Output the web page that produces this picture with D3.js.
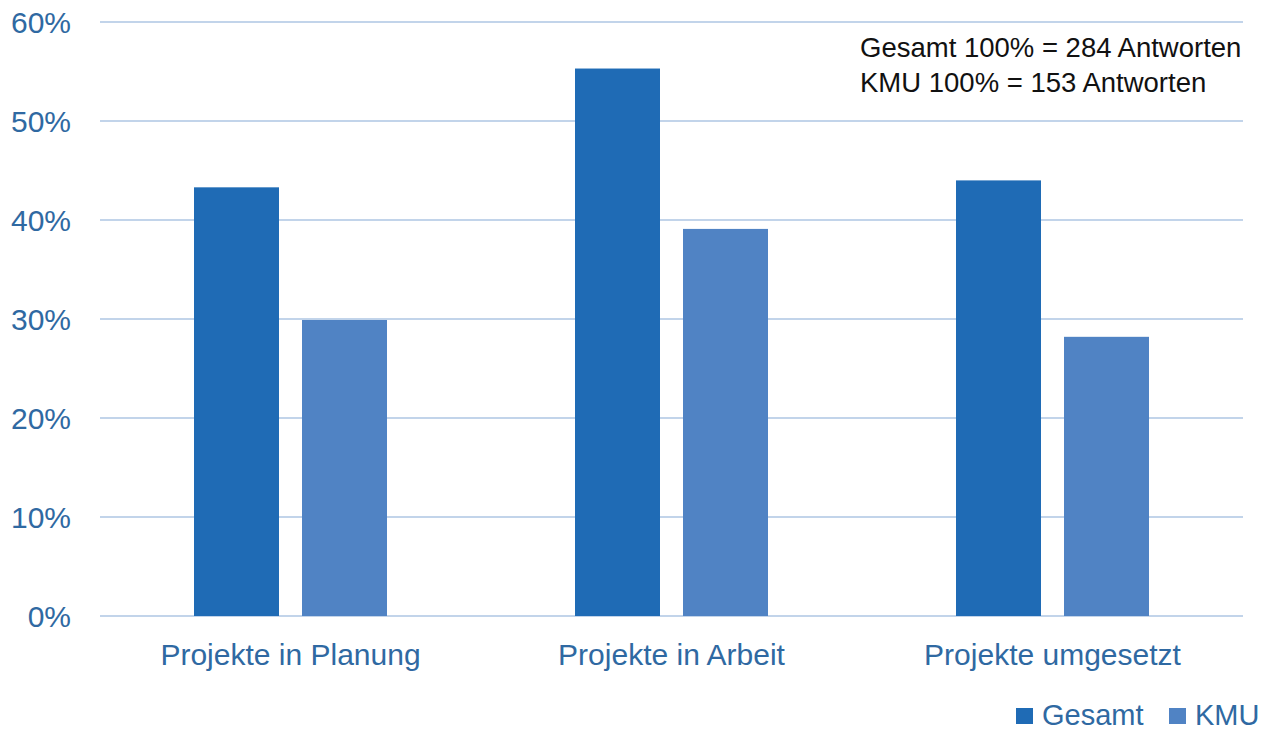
<!DOCTYPE html>
<html><head><meta charset="utf-8">
<script src="https://cdn.jsdelivr.net/npm/d3@7"></script>
<style>body{margin:0;background:#fff;}svg{display:block;font-family:"Liberation Sans",Arial,sans-serif;}</style>
</head><body>
<svg id="chart" width="1265" height="730"></svg>
<script>
const categories = ["Projekte in Planung", "Projekte in Arbeit", "Projekte umgesetzt"];
const seriesNames = ["Gesamt", "KMU"];
const gesamt = [43.3, 55.3, 44.0];
const kmu = [29.9, 39.1, 28.2];
const yTicks = [0, 10, 20, 30, 40, 50, 60];
const notes = ["Gesamt 100% = 284 Antworten", "KMU 100% = 153 Antworten"];
const colors = ["#1f6bb5", "#5083c4"];
const textColor = "#2f69a2";

const svg = d3.select("#chart");
const x0 = 100, x1 = 1243, yTop = 22, yBottom = 616;
const x = d3.scaleBand().domain(categories).range([x0, x1]).paddingInner(0).paddingOuter(0);
const y = d3.scaleLinear().domain([0, 60]).range([yBottom, yTop]);
const groupW = 193;
const xs = d3.scaleBand().domain(seriesNames).range([0, groupW]).paddingInner(23 / 108).paddingOuter(0);

// gridlines
svg.append("g").selectAll("line").data(yTicks).join("line")
  .attr("x1", x0).attr("x2", x1)
  .attr("y1", d => y(d)).attr("y2", d => y(d))
  .attr("stroke", "#c2d4ea").attr("stroke-width", 2);

// y labels
svg.append("g").selectAll("text").data(yTicks).join("text")
  .attr("x", 71).attr("y", d => y(d) + 11)
  .attr("text-anchor", "end").attr("font-size", 30).attr("fill", textColor)
  .text(d => d + "%");

const data = categories.map((c, i) => ({cat: c, vals: [gesamt[i], kmu[i]]}));
const groups = svg.append("g").selectAll("g").data(data).join("g")
  .attr("transform", d => `translate(${x(d.cat) + x.bandwidth() / 2 - groupW / 2},0)`);
groups.selectAll("rect").data(d => d.vals.map((v, j) => ({s: seriesNames[j], v, j}))).join("rect")
  .attr("x", d => xs(d.s)).attr("width", xs.bandwidth())
  .attr("y", d => y(d.v)).attr("height", d => y(0) - y(d.v))
  .attr("fill", d => colors[d.j]);

// category labels
svg.append("g").selectAll("text").data(categories).join("text")
  .attr("x", d => x(d) + x.bandwidth() / 2).attr("y", 665)
  .attr("text-anchor", "middle").attr("font-size", 30).attr("fill", textColor)
  .text(d => d);

// notes
svg.append("g").selectAll("text").data(notes).join("text")
  .attr("x", 860).attr("y", (d, i) => 57 + i * 35)
  .attr("font-size", 27.5).attr("fill", "#111")
  .text(d => d);

// legend
const legX = [1016, 1169];
const leg = svg.append("g").selectAll("g").data(seriesNames).join("g")
  .attr("transform", (d, i) => `translate(${legX[i]},0)`);
leg.append("rect").attr("x", 0).attr("y", 708).attr("width", 17).attr("height", 16)
  .attr("fill", (d, i) => colors[i]);
leg.append("text").attr("x", 26).attr("y", 725).attr("font-size", 29).attr("fill", textColor)
  .text(d => d);
</script>
</body></html>
